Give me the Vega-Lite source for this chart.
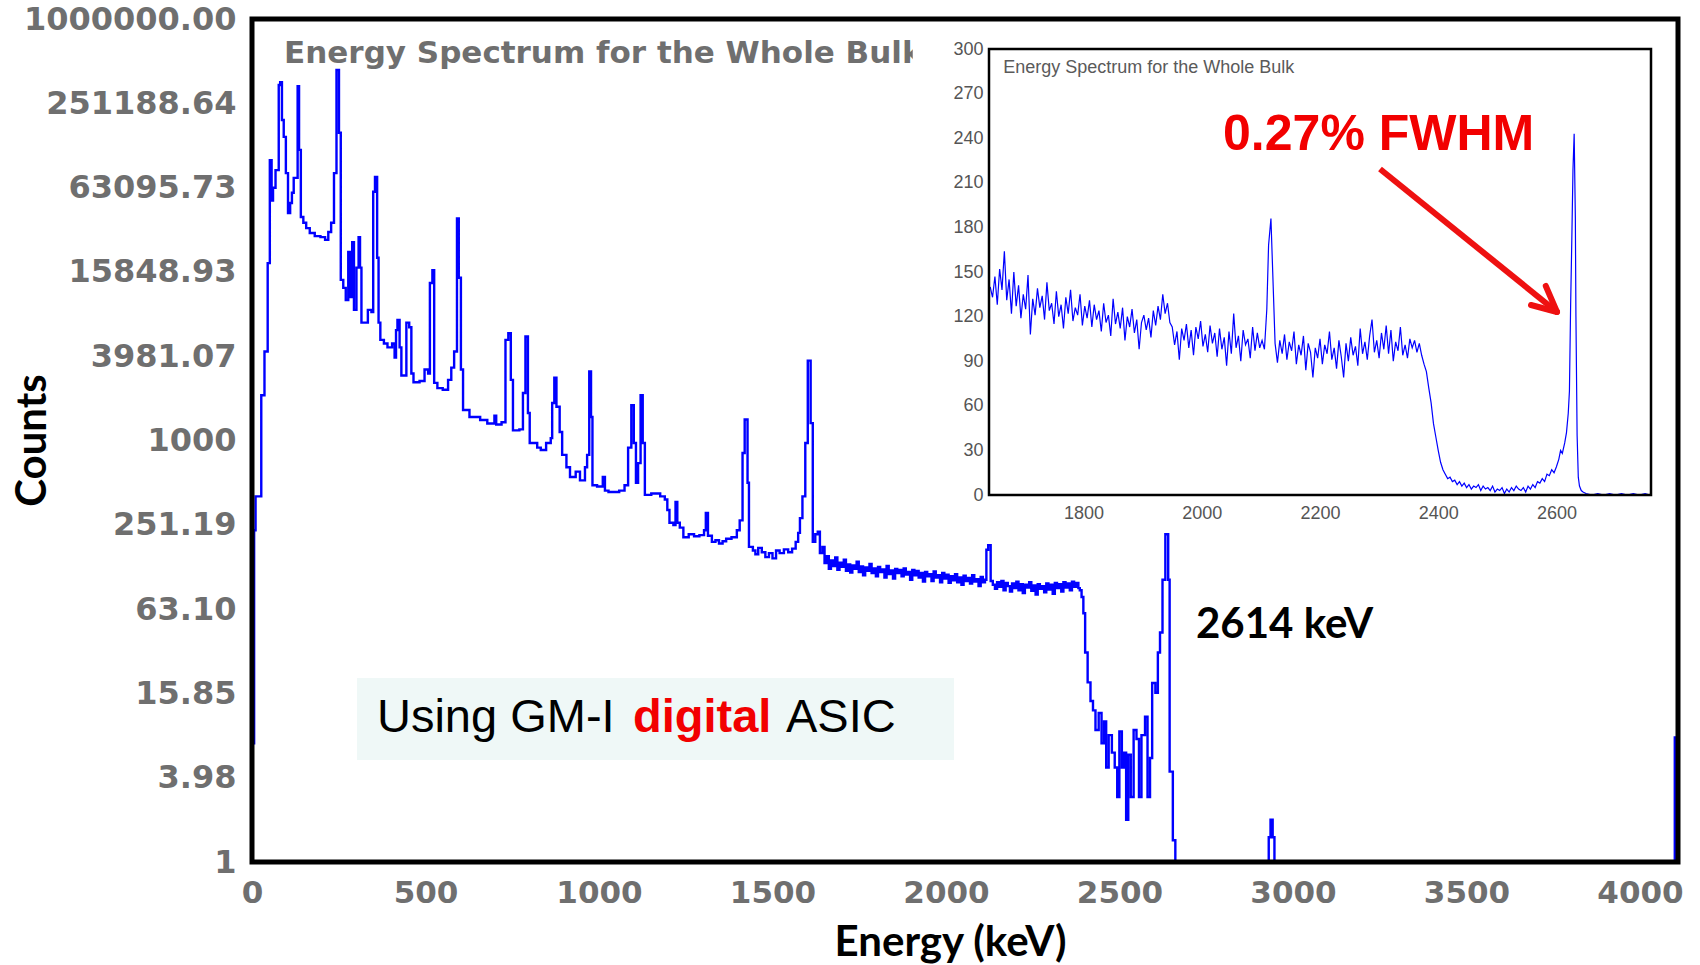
{
  "$schema": "https://vega.github.io/schema/vega-lite/v6.json",
  "width": 1426,
  "height": 843,
  "autosize": {"type": "none"},
  "padding": {"left": 252, "top": 19, "right": 22, "bottom": 103},
  "background": "white",
  "config": {"view": {"stroke": null}},
  "datasets": {
    "main": [
      {"E":0,"c":7,"s":1},{"E":6,"c":230,"s":1},{"E":10,"c":400,"s":1},{"E":26,"c":2100,"s":1},{"E":35,"c":4300,"s":1},{"E":44,"c":18300,"s":1},{"E":50,"c":99000,"s":1},{"E":55,"c":51000,"s":1},{"E":59,"c":63000,"s":1},{"E":66,"c":84000,"s":1},{"E":75,"c":339000,"s":1},{"E":79,"c":355000,"s":1},{"E":84,"c":191000,"s":1},{"E":89,"c":145000,"s":1},{"E":95,"c":80000,"s":1},{"E":101,"c":41500,"s":1},{"E":107,"c":49000,"s":1},{"E":112,"c":58000,"s":1},{"E":117,"c":74000,"s":1},{"E":128,"c":333000,"s":1},{"E":132,"c":117000,"s":1},{"E":137,"c":39000,"s":1},{"E":144,"c":35500,"s":1},{"E":152,"c":32500,"s":1},{"E":162,"c":30000,"s":1},{"E":176,"c":28500,"s":1},{"E":192,"c":28000,"s":1},{"E":205,"c":26800,"s":1},{"E":214,"c":30500,"s":1},{"E":222,"c":35500,"s":1},{"E":230,"c":80000,"s":1},{"E":237,"c":433000,"s":1},{"E":244,"c":155000,"s":1},{"E":249,"c":13900,"s":1},{"E":256,"c":12200,"s":1},{"E":263,"c":10000,"s":1},{"E":270,"c":22000,"s":1},{"E":275,"c":10500,"s":1},{"E":281,"c":25800,"s":1},{"E":286,"c":8500,"s":1},{"E":293,"c":17000,"s":1},{"E":299,"c":28000,"s":1},{"E":303,"c":17000,"s":1},{"E":307,"c":6900,"s":1},{"E":325,"c":8500,"s":1},{"E":335,"c":8200,"s":1},{"E":340,"c":59000,"s":1},{"E":345,"c":75000,"s":1},{"E":351,"c":20000,"s":1},{"E":355,"c":6900,"s":1},{"E":360,"c":5200,"s":1},{"E":370,"c":4900,"s":1},{"E":380,"c":4600,"s":1},{"E":393,"c":4900,"s":1},{"E":400,"c":3900,"s":1},{"E":404,"c":6100,"s":1},{"E":408,"c":7200,"s":1},{"E":414,"c":4600,"s":1},{"E":419,"c":2900,"s":1},{"E":433,"c":6900,"s":1},{"E":441,"c":6400,"s":1},{"E":447,"c":3000,"s":1},{"E":453,"c":2600,"s":1},{"E":470,"c":2650,"s":1},{"E":484,"c":3200,"s":1},{"E":494,"c":3000,"s":1},{"E":499,"c":13200,"s":1},{"E":506,"c":16300,"s":1},{"E":511,"c":2570,"s":1},{"E":520,"c":2360,"s":1},{"E":535,"c":2300,"s":1},{"E":550,"c":2700,"s":1},{"E":559,"c":3300,"s":1},{"E":567,"c":4300,"s":1},{"E":575,"c":38000,"s":1},{"E":580,"c":14400,"s":1},{"E":586,"c":3200,"s":1},{"E":592,"c":1650,"s":1},{"E":610,"c":1470,"s":1},{"E":640,"c":1400,"s":1},{"E":660,"c":1320,"s":1},{"E":680,"c":1500,"s":1},{"E":685,"c":1300,"s":1},{"E":700,"c":1350,"s":1},{"E":711,"c":5200,"s":1},{"E":719,"c":5800,"s":1},{"E":726,"c":2700,"s":1},{"E":732,"c":1180,"s":1},{"E":750,"c":1200,"s":1},{"E":760,"c":2180,"s":1},{"E":767,"c":5500,"s":1},{"E":774,"c":1570,"s":1},{"E":779,"c":960,"s":1},{"E":800,"c":890,"s":1},{"E":810,"c":855,"s":1},{"E":825,"c":960,"s":1},{"E":838,"c":1040,"s":1},{"E":842,"c":1850,"s":1},{"E":848,"c":2800,"s":1},{"E":854,"c":1740,"s":1},{"E":863,"c":1150,"s":1},{"E":870,"c":790,"s":1},{"E":882,"c":645,"s":1},{"E":892,"c":550,"s":1},{"E":908,"c":600,"s":1},{"E":920,"c":520,"s":1},{"E":934,"c":645,"s":1},{"E":940,"c":790,"s":1},{"E":946,"c":3100,"s":1},{"E":951,"c":1470,"s":1},{"E":955,"c":480,"s":1},{"E":968,"c":470,"s":1},{"E":984,"c":550,"s":1},{"E":990,"c":440,"s":1},{"E":1000,"c":430,"s":1},{"E":1030,"c":440,"s":1},{"E":1045,"c":480,"s":1},{"E":1055,"c":890,"s":1},{"E":1064,"c":1780,"s":1},{"E":1071,"c":960,"s":1},{"E":1077,"c":500,"s":1},{"E":1083,"c":690,"s":1},{"E":1090,"c":2100,"s":1},{"E":1096,"c":960,"s":1},{"E":1102,"c":410,"s":1},{"E":1120,"c":420,"s":1},{"E":1145,"c":400,"s":1},{"E":1158,"c":380,"s":1},{"E":1165,"c":320,"s":1},{"E":1171,"c":260,"s":1},{"E":1182,"c":250,"s":1},{"E":1188,"c":365,"s":1},{"E":1193,"c":260,"s":1},{"E":1200,"c":240,"s":1},{"E":1210,"c":205,"s":1},{"E":1225,"c":215,"s":1},{"E":1240,"c":208,"s":1},{"E":1255,"c":212,"s":1},{"E":1268,"c":230,"s":1},{"E":1273,"c":305,"s":1},{"E":1279,"c":210,"s":1},{"E":1290,"c":190,"s":1},{"E":1300,"c":195,"s":1},{"E":1310,"c":185,"s":1},{"E":1320,"c":192,"s":1},{"E":1330,"c":200,"s":1},{"E":1345,"c":205,"s":1},{"E":1360,"c":230,"s":1},{"E":1368,"c":270,"s":1},{"E":1376,"c":815,"s":1},{"E":1382,"c":1410,"s":1},{"E":1390,"c":500,"s":1},{"E":1394,"c":175,"s":1},{"E":1405,"c":165,"s":1},{"E":1412,"c":155,"s":1},{"E":1420,"c":172,"s":1},{"E":1430,"c":160,"s":1},{"E":1440,"c":148,"s":1},{"E":1450,"c":158,"s":1},{"E":1460,"c":145,"s":1},{"E":1470,"c":165,"s":1},{"E":1480,"c":158,"s":1},{"E":1492,"c":168,"s":1},{"E":1504,"c":160,"s":1},{"E":1515,"c":170,"s":1},{"E":1525,"c":190,"s":1},{"E":1532,"c":220,"s":1},{"E":1537,"c":280,"s":1},{"E":1544,"c":400,"s":1},{"E":1552,"c":960,"s":1},{"E":1559,"c":3700,"s":1},{"E":1567,"c":1330,"s":1},{"E":1573,"c":190,"s":1},{"E":1580,"c":215,"s":1},{"E":1587,"c":224,"s":1},{"E":1593,"c":158,"s":1},{"E":1600,"c":175,"s":1},{"E":1606,"c":134,"s":1},{"E":1612,"c":150,"s":1},{"E":1618,"c":122,"s":1},{"E":1624,"c":140,"s":1},{"E":1630,"c":128,"s":1},{"E":1636,"c":147,"s":1},{"E":1642,"c":120,"s":1},{"E":1648,"c":135,"s":1},{"E":1654,"c":126,"s":1},{"E":1660,"c":142,"s":1},{"E":1666,"c":118,"s":1},{"E":1672,"c":131,"s":1},{"E":1678,"c":115,"s":1},{"E":1684,"c":129,"s":1},{"E":1690,"c":122,"s":1},{"E":1696,"c":137,"s":1},{"E":1702,"c":116,"s":1},{"E":1708,"c":127,"s":1},{"E":1714,"c":110,"s":1},{"E":1720,"c":125,"s":1},{"E":1726,"c":118,"s":1},{"E":1732,"c":132,"s":1},{"E":1738,"c":114,"s":1},{"E":1744,"c":123,"s":1},{"E":1750,"c":108,"s":1},{"E":1756,"c":126,"s":1},{"E":1762,"c":116,"s":1},{"E":1768,"c":121,"s":1},{"E":1774,"c":106,"s":1},{"E":1780,"c":128,"s":1},{"E":1786,"c":112,"s":1},{"E":1792,"c":119,"s":1},{"E":1798,"c":104,"s":1},{"E":1804,"c":122,"s":1},{"E":1810,"c":114,"s":1},{"E":1816,"c":120,"s":1},{"E":1822,"c":108,"s":1},{"E":1828,"c":123,"s":1},{"E":1834,"c":111,"s":1},{"E":1840,"c":116,"s":1},{"E":1846,"c":102,"s":1},{"E":1852,"c":120,"s":1},{"E":1858,"c":110,"s":1},{"E":1864,"c":118,"s":1},{"E":1870,"c":106,"s":1},{"E":1876,"c":114,"s":1},{"E":1882,"c":99,"s":1},{"E":1888,"c":116,"s":1},{"E":1894,"c":108,"s":1},{"E":1900,"c":112,"s":1},{"E":1906,"c":100,"s":1},{"E":1912,"c":117,"s":1},{"E":1918,"c":106,"s":1},{"E":1924,"c":110,"s":1},{"E":1930,"c":98,"s":1},{"E":1936,"c":114,"s":1},{"E":1942,"c":104,"s":1},{"E":1948,"c":111,"s":1},{"E":1954,"c":97,"s":1},{"E":1960,"c":108,"s":1},{"E":1966,"c":101,"s":1},{"E":1972,"c":112,"s":1},{"E":1978,"c":98,"s":1},{"E":1984,"c":106,"s":1},{"E":1990,"c":94,"s":1},{"E":1996,"c":109,"s":1},{"E":2002,"c":100,"s":1},{"E":2008,"c":105,"s":1},{"E":2014,"c":96,"s":1},{"E":2020,"c":110,"s":1},{"E":2026,"c":99,"s":1},{"E":2032,"c":103,"s":1},{"E":2038,"c":92,"s":1},{"E":2044,"c":107,"s":1},{"E":2050,"c":98,"s":1},{"E":2056,"c":102,"s":1},{"E":2060,"c":167,"s":1},{"E":2065,"c":180,"s":1},{"E":2072,"c":100,"s":1},{"E":2078,"c":94,"s":1},{"E":2084,"c":88,"s":1},{"E":2090,"c":98,"s":1},{"E":2096,"c":91,"s":1},{"E":2102,"c":100,"s":1},{"E":2108,"c":86,"s":1},{"E":2114,"c":97,"s":1},{"E":2120,"c":92,"s":1},{"E":2126,"c":84,"s":1},{"E":2132,"c":96,"s":1},{"E":2138,"c":89,"s":1},{"E":2144,"c":99,"s":1},{"E":2150,"c":86,"s":1},{"E":2156,"c":95,"s":1},{"E":2162,"c":82,"s":1},{"E":2168,"c":94,"s":1},{"E":2174,"c":90,"s":1},{"E":2180,"c":98,"s":1},{"E":2186,"c":85,"s":1},{"E":2192,"c":93,"s":1},{"E":2198,"c":80,"s":1},{"E":2204,"c":95,"s":1},{"E":2210,"c":88,"s":1},{"E":2216,"c":92,"s":1},{"E":2222,"c":83,"s":1},{"E":2228,"c":96,"s":1},{"E":2234,"c":87,"s":1},{"E":2240,"c":94,"s":1},{"E":2246,"c":81,"s":1},{"E":2252,"c":97,"s":1},{"E":2258,"c":89,"s":1},{"E":2264,"c":95,"s":1},{"E":2270,"c":84,"s":1},{"E":2276,"c":98,"s":1},{"E":2282,"c":90,"s":1},{"E":2288,"c":96,"s":1},{"E":2294,"c":86,"s":1},{"E":2300,"c":99,"s":1},{"E":2306,"c":91,"s":1},{"E":2312,"c":97,"s":1},{"E":2318,"c":89,"s":1},{"E":2322,"c":86,"s":1},{"E":2327,"c":77,"s":1},{"E":2332,"c":59,"s":1},{"E":2337,"c":31,"s":1},{"E":2344,"c":19,"s":1},{"E":2352,"c":14,"s":1},{"E":2359,"c":12,"s":1},{"E":2366,"c":8.7,"s":1},{"E":2375,"c":11.5,"s":1},{"E":2383,"c":7,"s":1},{"E":2390,"c":10,"s":1},{"E":2396,"c":4.7,"s":1},{"E":2403,"c":8,"s":1},{"E":2412,"c":6,"s":1},{"E":2420,"c":4.7,"s":1},{"E":2427,"c":2.9,"s":1},{"E":2433,"c":8.5,"s":1},{"E":2440,"c":4.7,"s":1},{"E":2446,"c":6,"s":1},{"E":2452,"c":2,"s":1},{"E":2458,"c":5.8,"s":1},{"E":2465,"c":2.9,"s":1},{"E":2473,"c":8.7,"s":1},{"E":2481,"c":7.5,"s":1},{"E":2488,"c":2.9,"s":1},{"E":2495,"c":8,"s":1},{"E":2505,"c":10.8,"s":1},{"E":2512,"c":2.9,"s":1},{"E":2519,"c":5.5,"s":1},{"E":2525,"c":18.8,"s":1},{"E":2534,"c":16,"s":1},{"E":2541,"c":31,"s":1},{"E":2547,"c":43,"s":1},{"E":2554,"c":102,"s":1},{"E":2562,"c":215,"s":1},{"E":2570,"c":102,"s":1},{"E":2574,"c":4.4,"s":1},{"E":2583,"c":1.43,"s":1},{"E":2590,"c":1,"s":1},
      {"E":2848,"c":1,"s":2},{"E":2852,"c":1.5,"s":2},{"E":2857,"c":2,"s":2},{"E":2863,"c":1.5,"s":2},{"E":2868,"c":1,"s":2},
      {"E":3984,"c":1,"s":3},{"E":3991,"c":7.7,"s":3},{"E":4000,"c":7.7,"s":3}
    ],
    "inset": [
      {"E":1642,"c":140},{"E":1646,"c":133},{"E":1650,"c":147},{"E":1654,"c":128},{"E":1658,"c":152},{"E":1662,"c":138},{"E":1666,"c":164},{"E":1670,"c":131},{"E":1674,"c":145},{"E":1678,"c":122},{"E":1682,"c":150},{"E":1686,"c":127},{"E":1690,"c":141},{"E":1694,"c":119},{"E":1698,"c":135},{"E":1702,"c":125},{"E":1706,"c":148},{"E":1710,"c":108},{"E":1714,"c":132},{"E":1718,"c":121},{"E":1722,"c":139},{"E":1726,"c":126},{"E":1730,"c":134},{"E":1734,"c":118},{"E":1738,"c":143},{"E":1742,"c":124},{"E":1746,"c":129},{"E":1750,"c":115},{"E":1754,"c":137},{"E":1758,"c":120},{"E":1762,"c":128},{"E":1766,"c":112},{"E":1770,"c":133},{"E":1774,"c":122},{"E":1778,"c":138},{"E":1782,"c":117},{"E":1786,"c":126},{"E":1790,"c":121},{"E":1794,"c":135},{"E":1798,"c":114},{"E":1802,"c":127},{"E":1806,"c":119},{"E":1810,"c":131},{"E":1814,"c":113},{"E":1818,"c":128},{"E":1822,"c":118},{"E":1826,"c":124},{"E":1830,"c":110},{"E":1834,"c":129},{"E":1838,"c":116},{"E":1842,"c":121},{"E":1846,"c":107},{"E":1850,"c":132},{"E":1854,"c":115},{"E":1858,"c":123},{"E":1862,"c":112},{"E":1866,"c":126},{"E":1870,"c":104},{"E":1874,"c":120},{"E":1878,"c":113},{"E":1882,"c":125},{"E":1886,"c":109},{"E":1890,"c":118},{"E":1894,"c":98},{"E":1898,"c":116},{"E":1902,"c":121},{"E":1906,"c":111},{"E":1910,"c":119},{"E":1914,"c":106},{"E":1918,"c":124},{"E":1922,"c":114},{"E":1926,"c":127},{"E":1930,"c":118},{"E":1934,"c":135},{"E":1938,"c":122},{"E":1942,"c":129},{"E":1946,"c":116},{"E":1950,"c":113},{"E":1954,"c":101},{"E":1958,"c":110},{"E":1962,"c":91},{"E":1966,"c":112},{"E":1970,"c":104},{"E":1974,"c":115},{"E":1978,"c":99},{"E":1982,"c":111},{"E":1986,"c":94},{"E":1990,"c":113},{"E":1994,"c":105},{"E":1998,"c":117},{"E":2002,"c":100},{"E":2006,"c":108},{"E":2010,"c":96},{"E":2014,"c":114},{"E":2018,"c":102},{"E":2022,"c":109},{"E":2026,"c":93},{"E":2030,"c":112},{"E":2034,"c":98},{"E":2038,"c":106},{"E":2042,"c":87},{"E":2046,"c":110},{"E":2050,"c":95},{"E":2054,"c":122},{"E":2058,"c":99},{"E":2062,"c":107},{"E":2066,"c":90},{"E":2070,"c":111},{"E":2074,"c":101},{"E":2078,"c":105},{"E":2082,"c":92},{"E":2086,"c":113},{"E":2090,"c":97},{"E":2094,"c":109},{"E":2098,"c":99},{"E":2102,"c":104},{"E":2106,"c":98},{"E":2110,"c":125},{"E":2113,"c":168},{"E":2117,"c":186},{"E":2120,"c":150},{"E":2124,"c":102},{"E":2128,"c":89},{"E":2132,"c":104},{"E":2136,"c":95},{"E":2140,"c":108},{"E":2144,"c":91},{"E":2148,"c":103},{"E":2152,"c":97},{"E":2156,"c":110},{"E":2160,"c":88},{"E":2164,"c":101},{"E":2168,"c":94},{"E":2172,"c":107},{"E":2176,"c":84},{"E":2180,"c":102},{"E":2184,"c":96},{"E":2188,"c":79},{"E":2192,"c":99},{"E":2196,"c":92},{"E":2200,"c":105},{"E":2204,"c":88},{"E":2208,"c":101},{"E":2212,"c":95},{"E":2216,"c":110},{"E":2220,"c":91},{"E":2224,"c":99},{"E":2228,"c":85},{"E":2232,"c":104},{"E":2236,"c":93},{"E":2240,"c":79},{"E":2244,"c":102},{"E":2248,"c":90},{"E":2252,"c":106},{"E":2256,"c":94},{"E":2260,"c":100},{"E":2264,"c":87},{"E":2268,"c":112},{"E":2272,"c":95},{"E":2276,"c":103},{"E":2280,"c":91},{"E":2284,"c":107},{"E":2288,"c":118},{"E":2292,"c":96},{"E":2296,"c":104},{"E":2300,"c":92},{"E":2304,"c":109},{"E":2308,"c":98},{"E":2312,"c":114},{"E":2316,"c":95},{"E":2320,"c":111},{"E":2324,"c":90},{"E":2328,"c":103},{"E":2332,"c":97},{"E":2336,"c":113},{"E":2340,"c":94},{"E":2344,"c":101},{"E":2348,"c":92},{"E":2352,"c":105},{"E":2356,"c":99},{"E":2360,"c":104},{"E":2364,"c":96},{"E":2368,"c":102},{"E":2372,"c":94},{"E":2376,"c":88},{"E":2380,"c":83},{"E":2384,"c":72},{"E":2388,"c":62},{"E":2392,"c":48},{"E":2396,"c":39},{"E":2400,"c":30},{"E":2404,"c":22},{"E":2408,"c":17},{"E":2412,"c":14},{"E":2416,"c":11},{"E":2420,"c":12},{"E":2424,"c":9},{"E":2428,"c":10},{"E":2432,"c":7},{"E":2436,"c":9},{"E":2440,"c":6},{"E":2444,"c":8},{"E":2448,"c":5},{"E":2452,"c":7},{"E":2456,"c":4},{"E":2460,"c":6},{"E":2464,"c":5},{"E":2468,"c":7},{"E":2472,"c":3},{"E":2476,"c":6},{"E":2480,"c":4},{"E":2484,"c":5},{"E":2488,"c":3},{"E":2492,"c":6},{"E":2496,"c":2},{"E":2500,"c":4},{"E":2504,"c":3},{"E":2508,"c":5},{"E":2512,"c":1},{"E":2516,"c":4},{"E":2520,"c":2},{"E":2524,"c":5},{"E":2528,"c":3},{"E":2532,"c":6},{"E":2536,"c":4},{"E":2540,"c":3},{"E":2544,"c":5},{"E":2548,"c":2},{"E":2552,"c":6},{"E":2556,"c":4},{"E":2560,"c":7},{"E":2564,"c":5},{"E":2568,"c":9},{"E":2572,"c":8},{"E":2576,"c":11},{"E":2580,"c":9},{"E":2584,"c":14},{"E":2588,"c":13},{"E":2592,"c":17},{"E":2596,"c":15},{"E":2600,"c":19},{"E":2604,"c":24},{"E":2607,"c":30},{"E":2610,"c":28},{"E":2614,"c":35},{"E":2617,"c":42},{"E":2620,"c":55},{"E":2622,"c":70},{"E":2624,"c":127},{"E":2626,"c":171},{"E":2628,"c":219},{"E":2630,"c":243},{"E":2632,"c":187},{"E":2633,"c":120},{"E":2635,"c":40},{"E":2637,"c":12},{"E":2639,"c":6},{"E":2642,"c":3},{"E":2645,"c":2},{"E":2650,"c":1},{"E":2660,"c":0},{"E":2670,"c":1},{"E":2680,"c":0},{"E":2690,"c":1},{"E":2700,"c":0},{"E":2710,"c":1},{"E":2720,"c":0},{"E":2730,"c":1},{"E":2740,"c":0},{"E":2750,"c":1},{"E":2758,"c":0}
    ]
  },
  "layer": [
    {
      "layer": [
        {
          "data": {"name": "main"},
          "mark": {"type": "line", "interpolate": "step-after", "color": "#0000ff", "strokeWidth": 2.4},
          "encoding": {
            "x": {
              "field": "E", "type": "quantitative", "title": "Energy (keV)",
              "scale": {"domain": [0, 4000], "nice": false, "zero": false},
              "axis": {
                "values": [0, 500, 1000, 1500, 2000, 2500, 3000, 3500, 4000],
                "format": "d",
                "labelFont": "DejaVu Sans", "labelFontWeight": "bold", "labelFontSize": 31, "labelColor": "#6f6f6f",
                "ticks": false, "domain": false, "grid": false, "labelPadding": 16,
                "labelOverlap": false, "labelBound": false, "labelFlush": false, "labelLimit": 0,
                "labelOffset": {"expr": "-0.0095 * datum.value"},
                "titleFont": "Lato", "titleFontWeight": "bold", "titleFontSize": 42, "titleColor": "#000000",
                "titleX": 698, "titleY": 93, "titleBaseline": "alphabetic", "titleAlign": "center", "titleAnchor": null
              }
            },
            "y": {
              "field": "c", "type": "quantitative", "title": "Counts",
              "scale": {"type": "log", "domain": [1, 1000000], "nice": false},
              "axis": {
                "values": [1, 3.98107, 15.8489, 63.0957, 251.189, 1000, 3981.072, 15848.932, 63095.734, 251188.643, 1000000],
                "labelExpr": "datum.value >= 999999 ? '1000000.00' : (datum.value > 999 && datum.value < 1001) ? '1000' : datum.value < 1.01 ? '1' : format(datum.value, '.2f')",
                "labelFont": "DejaVu Sans", "labelFontWeight": "bold", "labelFontSize": 32, "labelColor": "#6f6f6f",
                "ticks": false, "domain": false, "grid": false, "labelPadding": 16,
                "labelOverlap": false, "labelBound": false, "labelFlush": false, "labelLimit": 0,
                "titleFont": "Lato", "titleFontWeight": "bold", "titleFontSize": 42, "titleColor": "#000000",
                "titleAngle": 270, "titleX": -207, "titleY": 421, "titleBaseline": "alphabetic", "titleAlign": "center", "titleAnchor": null
              }
            },
            "detail": {"field": "s"}
          }
        },
        {
          "data": {"values": [{}]},
          "mark": {"type": "rect", "fill": null, "fillOpacity": 0, "stroke": "#000000", "strokeWidth": 5},
          "encoding": {
            "x": {"datum": 0, "type": "quantitative", "title": "Energy (keV)"},
            "x2": {"datum": 4000},
            "y": {"datum": 1, "type": "quantitative", "title": "Counts"},
            "y2": {"datum": 1000000}
          }
        },
        {
          "data": {"values": [{}]},
          "mark": {"type": "text", "font": "DejaVu Sans", "fontWeight": "bold", "fontSize": 31, "color": "#6f6f6f", "align": "left", "baseline": "alphabetic"},
          "encoding": {
            "x": {"datum": 90, "type": "quantitative", "title": "Energy (keV)"},
            "y": {"datum": 486000, "type": "quantitative", "title": "Counts"},
            "text": {"value": "Energy Spectrum for the Whole Bulk"}
          }
        },
        {
          "data": {"values": [{}]},
          "mark": {"type": "rect", "fill": "#eff8f7"},
          "encoding": {
            "x": {"datum": 294.5, "type": "quantitative", "title": "Energy (keV)"},
            "x2": {"datum": 1969},
            "y": {"datum": 5.32, "type": "quantitative", "title": "Counts"},
            "y2": {"datum": 20.4}
          }
        },
        {
          "data": {"values": [{}]},
          "mark": {"type": "text", "font": "Liberation Sans", "fontSize": 47, "color": "#000000", "align": "left", "baseline": "alphabetic"},
          "encoding": {
            "x": {"datum": 350.6, "type": "quantitative", "title": "Energy (keV)"},
            "y": {"datum": 8.42, "type": "quantitative", "title": "Counts"},
            "text": {"value": "Using GM-I"}
          }
        },
        {
          "data": {"values": [{}]},
          "mark": {"type": "text", "font": "Liberation Sans", "fontWeight": "bold", "fontSize": 47, "color": "#f20000", "align": "left", "baseline": "alphabetic"},
          "encoding": {
            "x": {"datum": 1068.7, "type": "quantitative", "title": "Energy (keV)"},
            "y": {"datum": 8.42, "type": "quantitative", "title": "Counts"},
            "text": {"value": "digital"}
          }
        },
        {
          "data": {"values": [{}]},
          "mark": {"type": "text", "font": "Liberation Sans", "fontSize": 47, "color": "#000000", "align": "left", "baseline": "alphabetic"},
          "encoding": {
            "x": {"datum": 1497.9, "type": "quantitative", "title": "Energy (keV)"},
            "y": {"datum": 8.42, "type": "quantitative", "title": "Counts"},
            "text": {"value": "ASIC"}
          }
        },
        {
          "data": {"values": [{}]},
          "mark": {"type": "text", "font": "Lato", "fontWeight": "bold", "fontSize": 42, "color": "#000000", "align": "left", "baseline": "alphabetic"},
          "encoding": {
            "x": {"datum": 2648, "type": "quantitative", "title": "Energy (keV)"},
            "y": {"datum": 39.3, "type": "quantitative", "title": "Counts"},
            "text": {"value": "2614 keV"}
          }
        }
      ]
    },
    {
      "layer": [
        {
          "data": {"values": [{}]},
          "mark": {"type": "rect", "fill": "#ffffff"},
          "encoding": {
            "x": {
              "datum": 1511, "type": "quantitative",
              "scale": {"domain": [1640, 2760], "range": [737, 1399], "nice": false, "zero": false},
              "axis": {
                "orient": "bottom", "offset": -367, "values": [1800, 2000, 2200, 2400, 2600],
                "format": "d",
                "labelFont": "Liberation Sans", "labelFontSize": 18, "labelColor": "#555555",
                "ticks": false, "domain": false, "grid": false, "labelPadding": 9,
                "labelOverlap": false, "labelBound": false, "labelFlush": false, "title": null, "zindex": 1
              }
            },
            "x2": {"datum": 2784},
            "y": {
              "datum": -20, "type": "quantitative",
              "scale": {"domain": [0, 300], "range": [476, 30], "nice": false, "zero": false},
              "axis": {
                "orient": "left", "offset": -737, "values": [0, 30, 60, 90, 120, 150, 180, 210, 240, 270, 300],
                "labelFont": "Liberation Sans", "labelFontSize": 18, "labelColor": "#555555",
                "ticks": false, "domain": false, "grid": false, "labelPadding": 6,
                "labelOverlap": false, "labelBound": false, "labelFlush": false, "title": null, "zindex": 1
              }
            },
            "y2": {"datum": 313}
          }
        },
        {
          "data": {"name": "inset"},
          "mark": {"type": "line", "color": "#0000ff", "strokeWidth": 1.2},
          "encoding": {
            "x": {"field": "E", "type": "quantitative", "title": null},
            "y": {"field": "c", "type": "quantitative", "title": null}
          }
        },
        {
          "data": {"values": [{}]},
          "mark": {"type": "rect", "fill": null, "fillOpacity": 0, "stroke": "#000000", "strokeWidth": 2.5},
          "encoding": {
            "x": {"datum": 1640, "type": "quantitative", "title": null},
            "x2": {"datum": 2760},
            "y": {"datum": 0, "type": "quantitative", "title": null},
            "y2": {"datum": 300}
          }
        },
        {
          "data": {"values": [{}]},
          "mark": {"type": "text", "font": "Liberation Sans", "fontSize": 18, "color": "#5a5a5a", "align": "left", "baseline": "alphabetic"},
          "encoding": {
            "x": {"datum": 1664, "type": "quantitative", "title": null},
            "y": {"datum": 283.9, "type": "quantitative", "title": null},
            "text": {"value": "Energy Spectrum for the Whole Bulk"}
          }
        },
        {
          "data": {"values": [{}]},
          "mark": {"type": "text", "font": "Liberation Sans", "fontWeight": "bold", "fontSize": 50, "color": "#f20000", "align": "left", "baseline": "alphabetic"},
          "encoding": {
            "x": {"datum": 2036, "type": "quantitative", "title": null},
            "y": {"datum": 232, "type": "quantitative", "title": null},
            "text": {"value": "0.27% FWHM"}
          }
        },
        {
          "data": {"values": [{}]},
          "mark": {"type": "rule", "color": "#ee1111", "strokeWidth": 6, "strokeCap": "butt"},
          "encoding": {
            "x": {"datum": 2301.5, "type": "quantitative", "title": null},
            "y": {"datum": 219.3, "type": "quantitative", "title": null},
            "x2": {"datum": 2601},
            "y2": {"datum": 123.1}
          }
        },
        {
          "data": {"values": [{}]},
          "mark": {"type": "rule", "color": "#ee1111", "strokeWidth": 6, "strokeCap": "round"},
          "encoding": {
            "x": {"datum": 2601, "type": "quantitative", "title": null},
            "y": {"datum": 123.1, "type": "quantitative", "title": null},
            "x2": {"datum": 2582},
            "y2": {"datum": 140.6}
          }
        },
        {
          "data": {"values": [{}]},
          "mark": {"type": "rule", "color": "#ee1111", "strokeWidth": 6, "strokeCap": "round"},
          "encoding": {
            "x": {"datum": 2601, "type": "quantitative", "title": null},
            "y": {"datum": 123.1, "type": "quantitative", "title": null},
            "x2": {"datum": 2557},
            "y2": {"datum": 127.8}
          }
        }
      ]
    }
  ],
  "resolve": {"scale": {"x": "independent", "y": "independent"}}
}
